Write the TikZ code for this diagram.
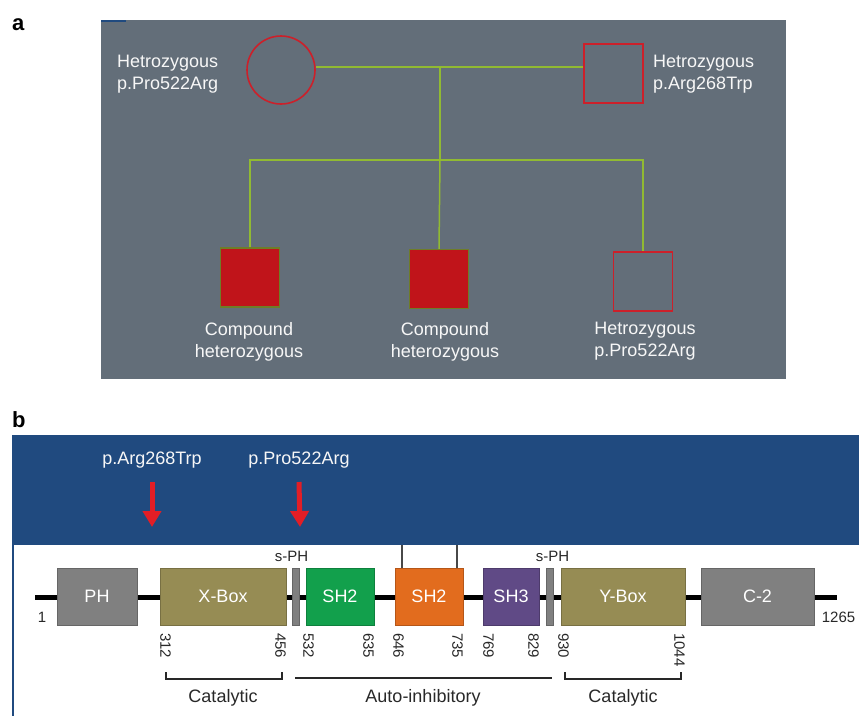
\documentclass[tikz,border=0pt]{standalone}
\usepackage{fontspec}
\setmainfont{Liberation Sans}
\usetikzlibrary{arrows.meta, positioning}
\definecolor{pedgray}{RGB}{99,110,121}
\definecolor{pedred}{RGB}{204,32,42}
\definecolor{affred}{RGB}{192,20,26}
\definecolor{affedge}{RGB}{110,125,40}
\definecolor{linegreen}{RGB}{145,186,50}
\definecolor{bandblue}{RGB}{32,74,127}
\definecolor{mutred}{RGB}{226,30,38}
\definecolor{domgray}{RGB}{128,128,128}
\definecolor{boxolive}{RGB}{150,140,84}
\definecolor{shgreen}{RGB}{18,160,76}
\definecolor{shorange}{RGB}{226,108,30}
\definecolor{shpurple}{RGB}{96,74,134}
\definecolor{inkgray}{RGB}{40,40,40}

\begin{document}
\begin{tikzpicture}[x=1pt, y=-1pt,
  panel/.style={anchor=base west, inner sep=0pt, font=\fontsize{22}{22}\selectfont\bfseries},
  lbl/.style={text=white!94!gray, font=\fontsize{18}{22}\selectfont, align=left, inner sep=0pt},
  kidlbl/.style={lbl, align=center, anchor=north},
  mutlbl/.style={text=white!94!gray, font=\fontsize{18}{18}\selectfont, inner sep=0pt, anchor=base},
  link/.style={linegreen, line width=1.5pt},
  carrier/.style={rectangle, draw=pedred, line width=1.8pt, minimum size=59pt, inner sep=0pt},
  affected/.style={rectangle, draw=affedge, line width=1.5pt, fill=affred, minimum size=59pt, inner sep=0pt},
  dom/.style={rectangle, draw=#1!80!black, line width=0.6pt, fill=#1, text=white, outer sep=0pt,
              minimum height=57pt, inner sep=0pt, font=\fontsize{18}{18}\selectfont},
  num/.style={yshift=-8pt, rotate=-90, inner sep=0pt, font=\fontsize{15}{15}\selectfont, text=inkgray},
  tag/.style={inner sep=0pt, font=\fontsize{18}{18}\selectfont, text=inkgray},
  small/.style={tag, font=\fontsize{15}{15}\selectfont},
  mut/.style={-{Triangle[length=16pt, width=18pt]}, line width=5pt, mutred},
  tether/.style={inkgray!85, line width=1.2pt},
  brk/.style={inkgray, line width=1.5pt}
]
\useasboundingbox (0,0) rectangle (859,716);

% ---- a: pedigree ----
\node[panel] (pa) at (12,30) {a};
\fill[pedgray] (101,20) rectangle (786,379);
\draw[bandblue, line width=1.5pt] (101,20.75) -- (126,20.75);

% parents
\node[circle, draw=pedred, line width=1.6pt, minimum size=68pt, inner sep=0pt] (mother) at (281,70) {};
\node[carrier] (father) at (613.5,73.5) {};
\node[lbl, anchor=north west] (motherlbl) at (117,55) {Hetrozygous\\p.Pro522Arg};
\node[lbl, anchor=north west] (fatherlbl) at (653,55) {Hetrozygous\\p.Arg268Trp};

% children
\node[affected] (kid1) at (250,277.5) {};
\node[affected] (kid2) at (439,279) {};
\node[carrier] (kid3) at (643,281.5) {};
\node[kidlbl] (kid1lbl) at (249,322) {Compound\\heterozygous};
\node[kidlbl] (kid2lbl) at (445,322) {Compound\\heterozygous};
\node[kidlbl] (kid3lbl) at (645,322) {Hetrozygous\\p.Pro522Arg};

% lines of descent
\coordinate (mate) at (440,67);
\coordinate (sibs) at (440,160);
\draw[link] (mother.east |- mate) -- (father.west |- mate);
\draw[link] (mate) -- (sibs);
\draw[link] (kid1.north) -- (kid1 |- sibs) -- (kid3 |- sibs) -- (kid3.north);
\draw[link] (sibs) -- (kid2.north);

% ---- b: protein domains ----
\node[panel] (pb) at (12,427) {b};
\fill[bandblue] (12,435) rectangle (859,545);
\draw[bandblue, line width=2pt] (13,545) -- (13,716);

% variants
\node[mutlbl] (argtrp) at (152,464) {p.Arg268Trp};
\node[mutlbl] (proarg) at (299,464) {p.Pro522Arg};
\coordinate (snp1) at (152,527);
\coordinate (snp2) at (300,527);
\draw[mut] ([yshift=-18pt]argtrp.base) -- (snp1);
\draw[mut] ([yshift=-18pt]proarg.base) -- (snp2);

% backbone
\coordinate (nterm) at (35,597);
\coordinate (cterm) at (837,597);
\draw[line width=5pt] (nterm) -- (cterm);

% domains
\node[dom=domgray, minimum width=80pt] (ph) at (97,596.5) {PH};
\node[dom=boxolive, minimum width=126pt, right=23pt of ph] (xbox) {X-Box};
\node[dom=domgray, minimum width=7pt, right=6pt of xbox] (sph1) {};
\node[dom=shgreen, minimum width=68pt, right=7pt of sph1] (sh2a) {SH2};
\node[dom=shorange, minimum width=68pt, right=21pt of sh2a] (sh2b) {SH2};
\node[dom=shpurple, minimum width=56pt, right=20pt of sh2b] (sh3) {SH3};
\node[dom=domgray, minimum width=7pt, right=7pt of sh3] (sph2) {};
\node[dom=boxolive, minimum width=124pt, right=8pt of sph2] (ybox) {Y-Box};
\node[dom=domgray, minimum width=113pt, right=16pt of ybox] (c2) {C-2};

\draw[tether] ([xshift=7pt]sh2b.north west) -- ++(0,-23);
\draw[tether] ([xshift=-6pt]sh2b.north east) -- ++(0,-23);

\node[small, above=6pt of sph1, xshift=-4pt] (sph1lbl) {s-PH};
\node[small, above=6pt of sph2, xshift=3pt] (sph2lbl) {s-PH};
\node[small] (first) at (42,617) {1};
\node[small] (last) at (838.5,617) {1265};

% residue numbers
\node[num, anchor=south west] at (xbox.south west) {312};
\node[num, anchor=north west] at (xbox.south east) {456};
\node[num, anchor=south west] at ([xshift=-3pt]sh2a.south west) {532};
\node[num, anchor=north west] at (sh2a.south east) {635};
\node[num, anchor=south west] at ([xshift=-2pt]sh2b.south west) {646};
\node[num, anchor=north west] at (sh2b.south east) {735};
\node[num, anchor=south west] at (sh3.south west) {769};
\node[num, anchor=north west] at (sh3.south east) {829};
\node[num, anchor=south west] at ([xshift=-3pt]ybox.south west) {930};
\node[num, anchor=north west] at (ybox.south east) {1044};

% functional regions
\draw[brk] (166,672) -- (166,679) -- (282,679) -- (282,672);
\draw[brk] (295,678) -- (552,678);
\draw[brk] (565,672) -- (565,679) -- (681,679) -- (681,672);
\node[tag, anchor=base] (cat1) at (223,702) {Catalytic};
\node[tag, anchor=base] (auto) at (423,702) {Auto-inhibitory};
\node[tag, anchor=base] (cat2) at (623,702) {Catalytic};
\end{tikzpicture}
\end{document}
